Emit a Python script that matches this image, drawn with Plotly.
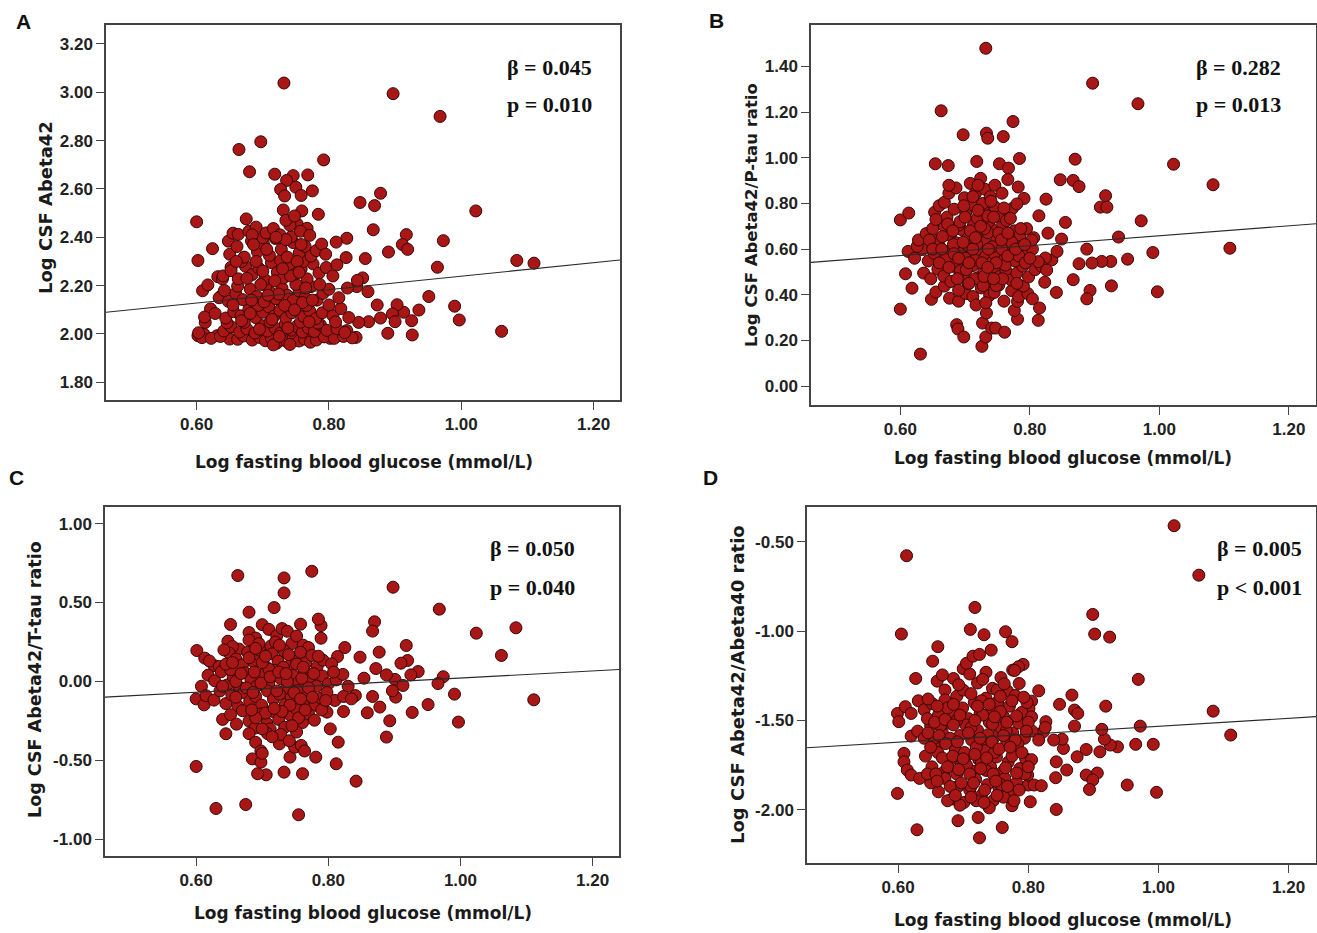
import plotly.graph_objects as go

# ---------------- data ----------------
x_tick_vals = [0.60, 0.80, 1.00, 1.20]
x_tick_text = ["0.60", "0.80", "1.00", "1.20"]

a_ytick_vals = [1.80, 2.00, 2.20, 2.40, 2.60, 2.80, 3.00, 3.20]
b_ytick_vals = [0.00, 0.20, 0.40, 0.60, 0.80, 1.00, 1.20, 1.40]
c_ytick_vals = [-1.00, -0.50, 0.00, 0.50, 1.00]
d_ytick_vals = [-2.00, -1.50, -1.00, -0.50]

panel_letters = ["A", "B", "C", "D"]
y_titles = ["Log CSF Abeta42", "Log CSF Abeta42/P-tau ratio",
            "Log CSF Abeta42/T-tau ratio", "Log CSF Abeta42/Abeta40 ratio"]
x_title = "Log fasting blood glucose (mmol/L)"
beta_texts = ["β = 0.045", "β = 0.282", "β = 0.050", "β = 0.005"]
p_texts = ["p = 0.010", "p = 0.013", "p = 0.040", "p < 0.001"]

fit_a_x = [0.463, 1.240]; fit_a_y = [2.090, 2.306]
fit_b_x = [0.462, 1.242]; fit_b_y = [0.542, 0.711]
fit_c_x = [0.462, 1.240]; fit_c_y = [-0.099, 0.076]
fit_d_x = [0.460, 1.242]; fit_d_y = [-1.653, -1.479]

panel_a_points = [
    (0.732, 3.038), (0.897, 2.994), (0.968, 2.900), (0.697, 2.795), (0.664, 2.763), (0.792, 2.720),
    (0.680, 2.671), (0.718, 2.661), (0.768, 2.658), (0.746, 2.655), (0.736, 2.635), (0.727, 2.598),
    (0.750, 2.607), (0.775, 2.592), (0.758, 2.573), (0.733, 2.571), (0.878, 2.582), (0.847, 2.544),
    (0.869, 2.531), (0.731, 2.513), (0.759, 2.509), (0.784, 2.495), (1.022, 2.509), (0.600, 2.464),
    (0.675, 2.476), (0.752, 2.455), (0.767, 2.437), (0.867, 2.431), (0.917, 2.411), (0.911, 2.370),
    (0.919, 2.350), (0.973, 2.386), (0.827, 2.396), (0.811, 2.380), (0.624, 2.353), (0.602, 2.304),
    (0.890, 2.339), (0.964, 2.276), (1.084, 2.304), (1.110, 2.293), (0.855, 2.312), (0.826, 2.316),
    (0.851, 2.232), (0.842, 2.196), (0.859, 2.175), (0.951, 2.155), (0.990, 2.115), (0.997, 2.058),
    (0.936, 2.099), (0.913, 2.090), (0.903, 2.121), (0.896, 2.083), (0.873, 2.120), (0.878, 2.066),
    (0.860, 2.051), (0.845, 2.048), (0.900, 2.051), (0.925, 2.055), (0.889, 2.003), (0.926, 1.996),
    (1.061, 2.011), (0.841, 1.986), (0.827, 2.014), (0.813, 1.993), (0.802, 1.982), (0.611, 2.000),
    (0.602, 1.993), (0.613, 2.048), (0.621, 2.104), (0.609, 2.179), (0.617, 2.203), (0.632, 2.237),
    (0.639, 2.228), (0.638, 2.159), (0.631, 1.993), (0.650, 1.979), (0.648, 2.384), (0.655, 2.417),
    (0.652, 2.276),
    (0.608, 1.985), (0.622, 1.982), (0.636, 1.990), (0.662, 1.978), (0.671, 1.992), (0.684, 1.975),
    (0.695, 1.986), (0.704, 1.972), (0.713, 1.981), (0.721, 1.962), (0.729, 1.975), (0.737, 1.968),
    (0.746, 1.984), (0.755, 1.971), (0.763, 1.979), (0.772, 1.966), (0.781, 1.975), (0.793, 1.988),
    (0.808, 1.982), (0.822, 1.990), (0.835, 1.984), (0.716, 1.955), (0.741, 1.957),
    (0.603, 2.005), (0.641, 2.012), (0.652, 2.030), (0.665, 2.008), (0.676, 2.021), (0.688, 2.004),
    (0.698, 2.035), (0.707, 2.012), (0.718, 2.026), (0.727, 2.004), (0.734, 2.040), (0.743, 2.016),
    (0.751, 2.031), (0.760, 2.008), (0.769, 2.024), (0.778, 2.010), (0.787, 2.038), (0.797, 2.015),
    (0.812, 2.022), (0.824, 2.006), (0.646, 2.046), (0.672, 2.048), (0.711, 2.050), (0.757, 2.049),
    (0.783, 2.045),
    (0.612, 2.070), (0.628, 2.085), (0.644, 2.066), (0.656, 2.092), (0.667, 2.075), (0.679, 2.102),
    (0.689, 2.068), (0.700, 2.090), (0.709, 2.112), (0.717, 2.074), (0.726, 2.098), (0.735, 2.065),
    (0.744, 2.088), (0.753, 2.110), (0.762, 2.072), (0.771, 2.095), (0.780, 2.063), (0.790, 2.088),
    (0.806, 2.076), (0.818, 2.105), (0.830, 2.068), (0.693, 2.118), (0.739, 2.120), (0.766, 2.118),
    (0.634, 2.150), (0.648, 2.135), (0.659, 2.168), (0.670, 2.142), (0.681, 2.186), (0.691, 2.155),
    (0.702, 2.133), (0.711, 2.172), (0.720, 2.146), (0.729, 2.190), (0.737, 2.160), (0.746, 2.138),
    (0.755, 2.178), (0.764, 2.150), (0.773, 2.196), (0.782, 2.140), (0.791, 2.168), (0.800, 2.185),
    (0.815, 2.150), (0.828, 2.190), (0.843, 2.222), (0.662, 2.198), (0.705, 2.200), (0.750, 2.205),
    (0.640, 2.240), (0.652, 2.262), (0.663, 2.228), (0.674, 2.280), (0.684, 2.246), (0.694, 2.272),
    (0.703, 2.225), (0.713, 2.295), (0.722, 2.255), (0.731, 2.232), (0.740, 2.285), (0.749, 2.248),
    (0.758, 2.270), (0.767, 2.228), (0.776, 2.290), (0.785, 2.252), (0.796, 2.275), (0.806, 2.240),
    (0.812, 2.286), (0.668, 2.300), (0.727, 2.305), (0.761, 2.300),
    (0.650, 2.330), (0.661, 2.362), (0.672, 2.318), (0.683, 2.385), (0.692, 2.340), (0.701, 2.372),
    (0.710, 2.325), (0.719, 2.395), (0.728, 2.350), (0.737, 2.318), (0.746, 2.378), (0.755, 2.335),
    (0.764, 2.362), (0.773, 2.322), (0.781, 2.345), (0.789, 2.372), (0.700, 2.398), (0.743, 2.402),
    (0.663, 2.412), (0.679, 2.425), (0.690, 2.442), (0.705, 2.418), (0.716, 2.436), (0.726, 2.410),
    (0.741, 2.450), (0.757, 2.425), (0.771, 2.408), (0.684, 2.410), (0.735, 2.470), (0.748, 2.488),
    (0.668, 2.055), (0.683, 2.140), (0.697, 2.205), (0.714, 2.060), (0.724, 2.165), (0.733, 2.118),
    (0.742, 2.240), (0.760, 2.130), (0.770, 2.050), (0.786, 2.205), (0.676, 2.230), (0.706, 2.350),
    (0.735, 2.390), (0.752, 2.300), (0.695, 2.020), (0.725, 1.990), (0.748, 2.100), (0.775, 2.140),
    (0.655, 2.120), (0.690, 2.300), (0.718, 2.220), (0.758, 2.370), (0.800, 2.120), (0.810, 2.050),
    (0.642, 2.180), (0.660, 2.300), (0.686, 2.370), (0.730, 2.270), (0.765, 2.190), (0.795, 2.330),
    (0.708, 2.160), (0.738, 2.025), (0.681, 2.085), (0.755, 2.255), (0.720, 2.400), (0.700, 2.260),
]

panel_b_points = [
    (0.732, 1.480), (0.897, 1.327), (0.967, 1.237), (0.663, 1.206), (0.774, 1.159), (0.697, 1.101),
    (0.733, 1.108), (0.735, 1.086), (0.759, 1.093), (0.870, 0.994), (1.022, 0.972), (0.784, 0.997),
    (0.654, 0.974), (0.674, 0.966), (0.718, 0.984), (0.753, 0.974), (0.767, 0.955), (1.083, 0.882),
    (0.847, 0.904), (0.867, 0.901), (0.876, 0.874), (0.782, 0.872), (0.917, 0.834), (0.909, 0.784),
    (0.919, 0.784), (0.825, 0.819), (0.791, 0.822), (0.972, 0.724), (0.855, 0.717), (0.937, 0.653),
    (0.814, 0.746), (1.109, 0.604), (0.990, 0.585), (0.951, 0.556), (0.925, 0.546), (0.911, 0.546),
    (0.896, 0.539), (0.888, 0.600), (0.876, 0.536), (0.997, 0.413), (0.926, 0.439), (0.893, 0.419),
    (0.888, 0.382), (0.867, 0.466), (0.841, 0.410), (0.823, 0.455), (0.815, 0.342), (0.813, 0.288),
    (0.600, 0.728), (0.613, 0.758), (0.600, 0.337), (0.631, 0.140), (0.618, 0.429), (0.608, 0.492),
    (0.687, 0.269), (0.689, 0.250), (0.698, 0.215), (0.727, 0.276), (0.733, 0.320), (0.726, 0.174),
    (0.732, 0.215), (0.741, 0.254), (0.747, 0.254), (0.761, 0.236), (0.781, 0.293), (0.776, 0.331),
    (0.781, 0.371), (0.849, 0.644), (0.828, 0.670), (0.834, 0.553), (0.842, 0.590), (0.824, 0.561),
    (0.648, 0.380), (0.655, 0.412), (0.676, 0.385), (0.690, 0.372), (0.701, 0.405), (0.712, 0.392),
    (0.725, 0.430), (0.738, 0.398), (0.752, 0.442), (0.760, 0.372), (0.772, 0.418), (0.783, 0.392),
    (0.797, 0.405), (0.804, 0.382), (0.668, 0.438), (0.705, 0.448), (0.745, 0.410), (0.790, 0.438),
    (0.717, 0.355), (0.732, 0.365),
    (0.636, 0.495), (0.647, 0.470), (0.658, 0.512), (0.667, 0.482), (0.678, 0.458), (0.686, 0.520),
    (0.695, 0.490), (0.703, 0.462), (0.712, 0.528), (0.720, 0.475), (0.729, 0.505), (0.737, 0.458),
    (0.745, 0.520), (0.754, 0.482), (0.763, 0.505), (0.771, 0.465), (0.780, 0.495), (0.789, 0.525),
    (0.798, 0.478), (0.808, 0.510), (0.818, 0.525), (0.826, 0.508),
    (0.612, 0.590), (0.622, 0.560), (0.634, 0.598), (0.643, 0.548), (0.652, 0.582), (0.661, 0.610),
    (0.670, 0.562), (0.679, 0.598), (0.688, 0.540), (0.697, 0.585), (0.705, 0.615), (0.714, 0.552),
    (0.723, 0.598), (0.732, 0.570), (0.741, 0.540), (0.750, 0.605), (0.759, 0.560), (0.768, 0.592),
    (0.777, 0.548), (0.786, 0.612), (0.795, 0.575), (0.804, 0.600), (0.813, 0.545), (0.626, 0.612),
    (0.700, 0.560), (0.745, 0.580),
    (0.628, 0.640), (0.640, 0.668), (0.650, 0.690), (0.659, 0.642), (0.668, 0.700), (0.677, 0.660),
    (0.686, 0.628), (0.695, 0.685), (0.704, 0.648), (0.713, 0.705), (0.722, 0.665), (0.731, 0.630),
    (0.740, 0.690), (0.749, 0.652), (0.758, 0.708), (0.767, 0.640), (0.776, 0.680), (0.785, 0.662),
    (0.795, 0.690), (0.806, 0.650), (0.690, 0.705), (0.735, 0.672),
    (0.653, 0.762), (0.660, 0.790), (0.672, 0.740), (0.683, 0.775), (0.692, 0.720), (0.701, 0.760),
    (0.710, 0.795), (0.719, 0.735), (0.728, 0.770), (0.737, 0.722), (0.746, 0.785), (0.755, 0.745),
    (0.764, 0.725), (0.773, 0.778), (0.780, 0.798), (0.668, 0.805), (0.727, 0.800),
    (0.675, 0.845), (0.686, 0.868), (0.699, 0.825), (0.708, 0.888), (0.716, 0.845), (0.724, 0.910),
    (0.731, 0.862), (0.739, 0.830), (0.746, 0.880), (0.757, 0.845), (0.766, 0.905), (0.675, 0.880),
    (0.720, 0.880),
    (0.660, 0.540), (0.682, 0.620), (0.693, 0.505), (0.708, 0.680), (0.718, 0.620), (0.726, 0.540),
    (0.735, 0.745), (0.742, 0.610), (0.752, 0.670), (0.762, 0.530), (0.772, 0.630), (0.783, 0.570),
    (0.700, 0.740), (0.715, 0.470), (0.748, 0.440), (0.760, 0.780), (0.673, 0.710), (0.688, 0.470),
    (0.728, 0.440), (0.793, 0.540), (0.803, 0.640), (0.645, 0.640), (0.655, 0.730), (0.712, 0.830),
    (0.740, 0.810), (0.770, 0.735), (0.683, 0.580), (0.730, 0.690), (0.757, 0.600), (0.697, 0.630),
    (0.650, 0.600), (0.665, 0.655), (0.675, 0.520), (0.690, 0.560), (0.702, 0.510), (0.712, 0.600),
    (0.724, 0.700), (0.736, 0.600), (0.748, 0.540), (0.756, 0.640), (0.766, 0.570), (0.778, 0.600),
    (0.792, 0.620), (0.681, 0.680), (0.698, 0.790), (0.720, 0.770), (0.744, 0.740), (0.766, 0.670),
    (0.706, 0.540), (0.729, 0.480), (0.758, 0.470), (0.780, 0.450), (0.690, 0.420), (0.735, 0.520),
    (0.664, 0.600), (0.800, 0.560), (0.786, 0.690), (0.716, 0.650), (0.706, 0.450), (0.744, 0.470),
]

panel_c_points = [
    (0.775, 0.698), (0.733, 0.656), (0.663, 0.671), (0.733, 0.561), (0.898, 0.597), (0.718, 0.468),
    (0.968, 0.458), (1.084, 0.340), (1.024, 0.306), (1.062, 0.165), (1.111, -0.116), (0.997, -0.257),
    (0.991, -0.080), (0.951, -0.146), (0.927, -0.196), (0.974, 0.030), (0.966, -0.013), (0.936, 0.063),
    (0.925, 0.042), (0.918, 0.228), (0.920, 0.133), (0.910, 0.116), (0.901, 0.013), (0.913, -0.025),
    (0.902, -0.099), (0.897, -0.059), (0.893, -0.249), (0.888, -0.352), (0.888, 0.042), (0.870, 0.378),
    (0.867, 0.319), (0.877, 0.186), (0.872, 0.082), (0.878, -0.162), (0.859, -0.198), (0.867, -0.095),
    (0.848, 0.154), (0.854, 0.021), (0.841, -0.089), (0.842, -0.631), (0.812, -0.521), (0.815, -0.384),
    (0.825, 0.215), (0.814, 0.158), (0.823, -0.190), (0.789, 0.354), (0.785, 0.395), (0.789, 0.274),
    (0.758, 0.363), (0.781, -0.479), (0.761, -0.584), (0.755, -0.844), (0.675, -0.779), (0.630, -0.804),
    (0.600, -0.538), (0.733, -0.574), (0.706, -0.591), (0.693, -0.584), (0.685, -0.490), (0.698, -0.511),
    (0.680, 0.439), (0.652, 0.361), (0.601, 0.196), (0.613, 0.148), (0.627, 0.101), (0.600, -0.110),
    (0.612, -0.148), (0.645, -0.331), (0.742, -0.479), (0.749, -0.416), (0.759, -0.405), (0.726, -0.395),
    (0.803, -0.300), (0.798, -0.194),
    (0.648, 0.255), (0.665, 0.205), (0.680, 0.310), (0.690, 0.275), (0.700, 0.360), (0.710, 0.330),
    (0.722, 0.290), (0.730, 0.335), (0.738, 0.318), (0.745, 0.240), (0.752, 0.288), (0.762, 0.230),
    (0.770, 0.215), (0.680, 0.262), (0.655, 0.222), (0.713, 0.225),
    (0.620, 0.130), (0.635, 0.095), (0.650, 0.180), (0.660, 0.142), (0.670, 0.105), (0.678, 0.185),
    (0.688, 0.120), (0.697, 0.160), (0.706, 0.092), (0.715, 0.175), (0.724, 0.128), (0.733, 0.195),
    (0.741, 0.100), (0.750, 0.152), (0.758, 0.185), (0.766, 0.118), (0.775, 0.165), (0.783, 0.092),
    (0.792, 0.135), (0.805, 0.112), (0.642, 0.200), (0.696, 0.198),
    (0.608, -0.030), (0.618, 0.040), (0.628, 0.005), (0.638, 0.062), (0.647, -0.022), (0.656, 0.030),
    (0.665, -0.035), (0.674, 0.055), (0.683, 0.010), (0.692, -0.028), (0.701, 0.045), (0.710, -0.010),
    (0.719, 0.070), (0.728, 0.018), (0.737, -0.038), (0.746, 0.040), (0.755, -0.005), (0.764, 0.060),
    (0.773, 0.020), (0.782, -0.030), (0.791, 0.035), (0.800, -0.015), (0.812, 0.010), (0.822, 0.045),
    (0.830, -0.030), (0.652, 0.075), (0.710, 0.078),
    (0.615, -0.090), (0.627, -0.118), (0.636, -0.060), (0.645, -0.140), (0.654, -0.085), (0.663, -0.155),
    (0.672, -0.070), (0.681, -0.125), (0.690, -0.095), (0.699, -0.150), (0.708, -0.060), (0.717, -0.112),
    (0.726, -0.080), (0.735, -0.145), (0.744, -0.100), (0.753, -0.058), (0.762, -0.130), (0.771, -0.085),
    (0.780, -0.150), (0.789, -0.105), (0.798, -0.070), (0.810, -0.120), (0.823, -0.095), (0.835, -0.110),
    (0.640, -0.240), (0.652, -0.210), (0.661, -0.270), (0.670, -0.185), (0.680, -0.250), (0.689, -0.295),
    (0.698, -0.205), (0.707, -0.265), (0.716, -0.190), (0.725, -0.240), (0.734, -0.290), (0.743, -0.215),
    (0.752, -0.175), (0.761, -0.260), (0.770, -0.205), (0.779, -0.245), (0.790, -0.180), (0.712, -0.300),
    (0.680, -0.330), (0.690, -0.385), (0.698, -0.440), (0.708, -0.330), (0.728, -0.335), (0.741, -0.375),
    (0.752, -0.320), (0.764, -0.440), (0.700, -0.455),
    (0.660, 0.000), (0.676, -0.040), (0.688, 0.060), (0.698, -0.010), (0.712, 0.030), (0.722, -0.060),
    (0.732, 0.090), (0.742, -0.150), (0.752, 0.110), (0.760, 0.020), (0.770, -0.040), (0.778, 0.050),
    (0.695, 0.240), (0.720, 0.250), (0.740, 0.170), (0.705, -0.200), (0.730, -0.190), (0.755, -0.230),
    (0.680, 0.150), (0.660, -0.100), (0.645, 0.110), (0.690, -0.230), (0.715, -0.350), (0.738, 0.000),
    (0.765, -0.180), (0.785, 0.160), (0.796, -0.120), (0.700, 0.120), (0.725, 0.060), (0.748, -0.070),
    (0.655, 0.120), (0.668, 0.050), (0.686, -0.070), (0.705, 0.160), (0.718, -0.170), (0.736, 0.050),
    (0.758, -0.110), (0.776, -0.100), (0.690, 0.210), (0.745, -0.280), (0.726, 0.230), (0.640, -0.030),
    (0.684, -0.180), (0.762, 0.090), (0.808, 0.060), (0.700, -0.300),
]

panel_d_points = [
    (1.024, -0.409), (1.062, -0.686), (0.613, -0.577), (0.718, -0.867), (0.899, -0.906), (0.902, -1.016),
    (0.925, -1.033), (0.605, -1.016), (0.711, -0.990), (0.732, -1.020), (0.765, -1.003), (0.775, -1.059),
    (0.661, -1.087), (0.743, -1.106), (0.969, -1.270), (1.084, -1.448), (1.111, -1.582), (0.972, -1.532),
    (0.992, -1.634), (0.965, -1.634), (0.937, -1.648), (0.926, -1.638), (0.917, -1.605), (0.913, -1.550),
    (0.919, -1.420), (0.910, -1.676), (0.889, -1.663), (0.875, -1.704), (0.997, -1.903), (0.952, -1.862),
    (0.906, -1.795), (0.889, -1.806), (0.899, -1.834), (0.894, -1.887), (0.867, -1.358), (0.871, -1.442),
    (0.876, -1.461), (0.871, -1.532), (0.848, -1.410), (0.816, -1.334), (0.805, -1.392), (0.843, -1.732),
    (0.842, -1.821), (0.843, -1.999), (0.859, -1.778), (0.854, -1.657), (0.852, -1.605), (0.839, -1.610),
    (0.827, -1.507), (0.823, -1.564), (0.803, -1.956), (0.775, -1.978), (0.760, -2.100), (0.725, -2.158),
    (0.723, -2.044), (0.692, -2.062), (0.629, -2.113), (0.599, -1.909), (0.599, -1.461), (0.601, -1.507),
    (0.611, -1.423), (0.620, -1.461), (0.631, -1.390), (0.627, -1.265), (0.620, -1.588), (0.609, -1.685),
    (0.609, -1.732), (0.614, -1.778), (0.620, -1.806), (0.633, -1.825), (0.653, -1.168), (0.786, -1.293),
    (0.792, -1.186), (0.785, -1.199), (0.776, -1.218), (0.801, -1.433), (0.800, -1.862), (0.799, -1.806),
    (0.809, -1.862), (0.820, -1.866),
    (0.660, -1.280), (0.672, -1.330), (0.685, -1.265), (0.700, -1.210), (0.710, -1.240), (0.722, -1.290),
    (0.735, -1.230), (0.745, -1.320), (0.758, -1.260), (0.768, -1.335), (0.779, -1.220), (0.705, -1.180),
    (0.715, -1.140), (0.725, -1.130),
    (0.640, -1.440), (0.652, -1.405), (0.662, -1.470), (0.672, -1.385), (0.681, -1.452), (0.690, -1.365),
    (0.699, -1.430), (0.708, -1.490), (0.717, -1.400), (0.726, -1.460), (0.735, -1.375), (0.744, -1.442),
    (0.753, -1.395), (0.762, -1.480), (0.771, -1.420), (0.780, -1.360), (0.790, -1.455), (0.798, -1.400),
    (0.630, -1.560), (0.640, -1.600), (0.650, -1.530), (0.659, -1.625), (0.668, -1.570), (0.677, -1.515),
    (0.686, -1.640), (0.695, -1.585), (0.704, -1.525), (0.713, -1.610), (0.722, -1.555), (0.731, -1.645),
    (0.740, -1.510), (0.749, -1.590), (0.758, -1.540), (0.767, -1.620), (0.776, -1.570), (0.785, -1.515),
    (0.794, -1.600), (0.806, -1.560), (0.816, -1.610), (0.826, -1.540),
    (0.642, -1.700), (0.652, -1.760), (0.661, -1.680), (0.670, -1.790), (0.679, -1.725), (0.688, -1.665),
    (0.697, -1.750), (0.706, -1.695), (0.715, -1.785), (0.724, -1.720), (0.733, -1.670), (0.742, -1.760),
    (0.751, -1.705), (0.760, -1.790), (0.769, -1.735), (0.778, -1.680), (0.787, -1.770), (0.796, -1.715),
    (0.650, -1.850), (0.662, -1.900), (0.672, -1.825), (0.683, -1.940), (0.692, -1.870), (0.701, -1.960),
    (0.710, -1.890), (0.719, -1.830), (0.728, -1.920), (0.737, -1.860), (0.746, -1.950), (0.755, -1.880),
    (0.764, -1.825), (0.773, -1.905), (0.782, -1.850), (0.695, -1.975), (0.740, -1.990),
    (0.665, -1.530), (0.680, -1.600), (0.690, -1.500), (0.702, -1.680), (0.712, -1.540), (0.720, -1.650),
    (0.730, -1.470), (0.738, -1.580), (0.748, -1.680), (0.757, -1.450), (0.766, -1.560), (0.775, -1.700),
    (0.690, -1.800), (0.712, -1.870), (0.735, -1.780), (0.758, -1.860), (0.700, -1.330), (0.728, -1.390),
    (0.752, -1.330), (0.676, -1.430), (0.656, -1.600), (0.645, -1.800), (0.784, -1.630), (0.795, -1.800),
    (0.805, -1.480), (0.720, -1.950), (0.762, -1.930), (0.705, -1.750), (0.745, -1.520), (0.728, -1.740),
    (0.668, -1.245), (0.693, -1.300), (0.730, -1.270), (0.763, -1.295),
    (0.646, -1.380), (0.660, -1.420), (0.685, -1.410), (0.712, -1.350), (0.722, -1.420), (0.740, -1.410),
    (0.757, -1.365), (0.775, -1.390), (0.793, -1.370),
    (0.645, -1.490), (0.656, -1.510), (0.672, -1.495), (0.685, -1.525), (0.695, -1.470), (0.718, -1.500),
    (0.748, -1.480), (0.767, -1.510), (0.782, -1.475), (0.800, -1.510),
    (0.646, -1.570), (0.663, -1.585), (0.673, -1.630), (0.691, -1.620), (0.708, -1.570), (0.726, -1.600),
    (0.744, -1.620), (0.762, -1.585), (0.780, -1.610), (0.797, -1.560),
    (0.650, -1.650), (0.668, -1.710), (0.684, -1.700), (0.700, -1.715), (0.718, -1.690), (0.736, -1.710),
    (0.755, -1.660), (0.772, -1.650), (0.790, -1.680), (0.805, -1.720),
    (0.658, -1.800), (0.676, -1.760), (0.693, -1.775), (0.710, -1.800), (0.727, -1.770), (0.746, -1.800),
    (0.765, -1.765), (0.782, -1.795), (0.800, -1.760),
    (0.660, -1.840), (0.680, -1.870), (0.697, -1.850), (0.716, -1.850), (0.733, -1.890), (0.750, -1.840),
    (0.768, -1.870), (0.786, -1.890),
    (0.676, -1.950), (0.688, -1.920), (0.712, -1.930), (0.732, -1.960), (0.752, -1.920), (0.778, -1.950),
]

# ---------------- styling / layout ----------------
W, H = 1317, 933
MARKER_FILL = "#A81616"
MARKER_LINE = "#3A0505"
TICK_FONT = dict(family="Liberation Sans, Arial, sans-serif", size=17, color="#222", weight="bold")
XTITLE_FONT = dict(family="DejaVu Sans, Verdana, sans-serif", size=17, color="#1a1a1a", weight="bold")
STAT_FONT = dict(family="Liberation Serif, Times New Roman, serif", size=22, color="#111", weight="bold")
LETTER_FONT = dict(family="Liberation Sans, Arial, sans-serif", size=21, color="#111", weight="bold")
ytitle_sizes = [18, 16.5, 17.5, 18]

def px_x(p):
    return p / W

def px_y(p):
    return 1 - p / H

# box pixel positions (left, right, top, bottom)
boxes = [(106, 620, 25, 400), (811, 1316, 25, 405), (105, 619, 507, 856), (807, 1316, 507, 863)]
x_ranges = [[0.463, 1.240], [0.462, 1.242], [0.462, 1.240], [0.460, 1.242]]
y_ranges = [[1.727, 3.278], [-0.083, 1.582], [-1.105, 1.105], [-2.299, -0.304]]
y_ticks = [a_ytick_vals, b_ytick_vals, c_ytick_vals, d_ytick_vals]
points = [panel_a_points, panel_b_points, panel_c_points, panel_d_points]
fits = [(fit_a_x, fit_a_y), (fit_b_x, fit_b_y), (fit_c_x, fit_c_y), (fit_d_x, fit_d_y)]

letter_pos = [(23, 22), (716, 21), (16, 477), (710, 478)]
ytitle_pos = [(45, 208), (751, 215), (35, 680), (737, 685)]
xtitle_pos = [(364, 462), (1063, 458), (363, 913), (1063, 920)]
stat_pos = [(594, 67, 105), (1283, 67, 105), (577, 548, 587), (1304, 548, 587)]

fig = go.Figure()
layout_axes = {}
annotations = []

for i in range(4):
    xa = "x" if i == 0 else f"x{i+1}"
    ya = "y" if i == 0 else f"y{i+1}"
    xkey = "xaxis" if i == 0 else f"xaxis{i+1}"
    ykey = "yaxis" if i == 0 else f"yaxis{i+1}"
    l, r, t, b = boxes[i]
    pts = points[i]
    fig.add_trace(go.Scatter(
        x=[p[0] for p in pts], y=[p[1] for p in pts], mode="markers",
        marker=dict(size=12, color=MARKER_FILL, line=dict(color=MARKER_LINE, width=1)),
        xaxis=xa, yaxis=ya, showlegend=False, hoverinfo="skip"))
    fx, fy = fits[i]
    fig.add_trace(go.Scatter(x=fx, y=fy, mode="lines", line=dict(color="#2a2a2a", width=1.1),
                             xaxis=xa, yaxis=ya, showlegend=False, hoverinfo="skip"))
    layout_axes[xkey] = dict(
        domain=[px_x(l), px_x(r)], range=x_ranges[i], anchor=ya,
        tickvals=x_tick_vals, ticktext=x_tick_text, ticks="outside", ticklen=8,
        tickcolor="#444", tickwidth=1, showgrid=False, zeroline=False,
        showline=True, linecolor="#444", linewidth=1.5, mirror=True,
        tickfont=TICK_FONT, fixedrange=True)
    layout_axes[ykey] = dict(
        domain=[px_y(b), px_y(t)], range=y_ranges[i], anchor=xa,
        tickvals=y_ticks[i], ticktext=[f"{v:.2f}" for v in y_ticks[i]], ticks="outside", ticklen=8,
        tickcolor="#444", tickwidth=1, showgrid=False, zeroline=False,
        showline=True, linecolor="#444", linewidth=1.5, mirror=True,
        tickfont=TICK_FONT, fixedrange=True)
    lx, ly = letter_pos[i]
    annotations.append(dict(text=panel_letters[i], x=px_x(lx), y=px_y(ly), xref="paper", yref="paper",
                            showarrow=False, font=LETTER_FONT, xanchor="center", yanchor="middle"))
    tx, ty = ytitle_pos[i]
    yfont = dict(XTITLE_FONT, size=ytitle_sizes[i])
    annotations.append(dict(text=y_titles[i], x=px_x(tx), y=px_y(ty), xref="paper", yref="paper",
                            showarrow=False, font=yfont, textangle=-90,
                            xanchor="center", yanchor="middle"))
    qx, qy = xtitle_pos[i]
    annotations.append(dict(text=x_title, x=px_x(qx), y=px_y(qy), xref="paper", yref="paper",
                            showarrow=False, font=XTITLE_FONT, xanchor="center", yanchor="middle"))
    sx, sy1, sy2 = stat_pos[i]
    annotations.append(dict(text=beta_texts[i], x=px_x(sx), y=px_y(sy1), xref="paper", yref="paper",
                            showarrow=False, font=STAT_FONT, xanchor="right", yanchor="middle"))
    annotations.append(dict(text=p_texts[i], x=px_x(sx), y=px_y(sy2), xref="paper", yref="paper",
                            showarrow=False, font=STAT_FONT, xanchor="right", yanchor="middle"))

fig.update_layout(
    width=W, height=H, margin=dict(l=0, r=0, t=0, b=0),
    paper_bgcolor="white", plot_bgcolor="white",
    annotations=annotations, **layout_axes)

fig.write_html("out.html", config={"displayModeBar": False},
               post_script="document.body.style.margin='0';document.body.style.overflow='hidden';")
